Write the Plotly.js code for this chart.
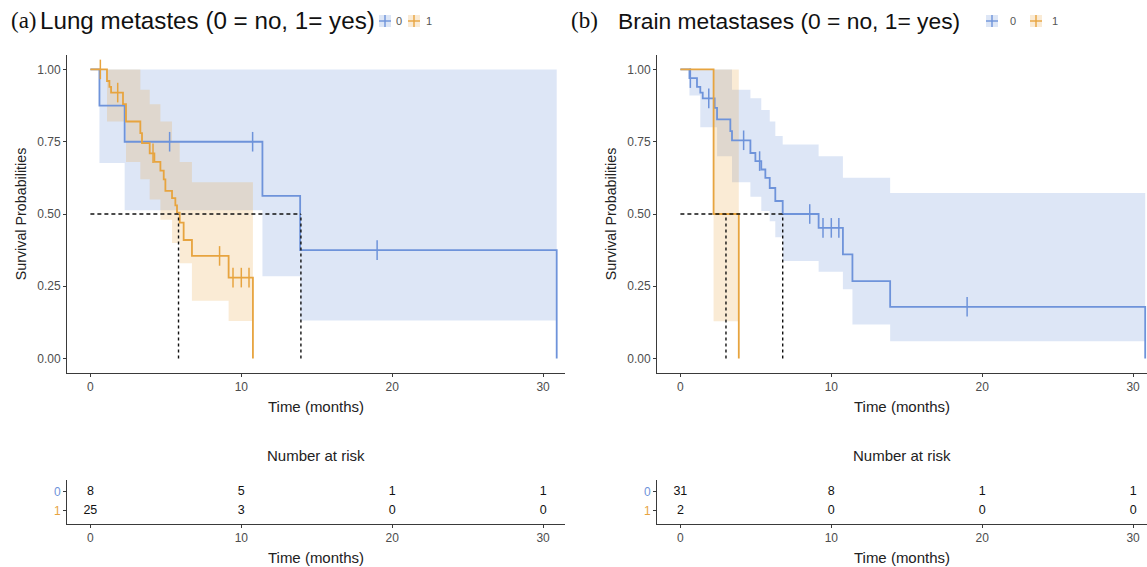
<!DOCTYPE html>
<html><head><meta charset="utf-8">
<script src="https://cdn.plot.ly/plotly-3.0.1.min.js"></script>
<style>html,body{margin:0;padding:0;background:#fff}#chart{width:1147px;height:567px}</style>
</head><body><div id="chart"></div>
<script>
// ---------- data ----------
const groupLabels = ['0', '1'];
const xTickVals = [0, 10, 20, 30];
const yTickVals = [0, 0.25, 0.5, 0.75, 1];
const riskTimes = [0, 10, 20, 30];

// (a) Lung metastases, group 0
const lungNoTime = [0, 0.6, 2.27, 11.4, 13.9, 30.9];
const lungNoSurv = [1, 0.875, 0.75, 0.5625, 0.375, 0];
const lungNoCensor = [5.25, 10.75, 19.0];
const lungNoCiTime = [0, 0.6, 2.27, 11.4, 13.9, 30.9];
const lungNoCiUpper = [1, 1, 1, 1, 1, 1];
const lungNoCiLower = [1, 0.676, 0.513, 0.285, 0.132, 0.132];
// (a) Lung metastases, group 1
const lungYesTime = [0, 1.10, 1.26, 1.37, 2.16, 2.36, 3.31, 3.42, 3.93, 4.24, 4.64, 4.86, 4.97, 5.41, 5.63, 5.74, 5.92, 6.18, 6.73, 9.16, 10.77];
const lungYesSurv = [1, 0.96, 0.94, 0.92, 0.88, 0.82, 0.78, 0.745, 0.71, 0.68, 0.65, 0.62, 0.58, 0.555, 0.53, 0.505, 0.47, 0.41, 0.355, 0.28, 0];
const lungYesCensor = [0.66, 1.81, 4.15, 8.56, 9.45, 10.0, 10.51];
const lungYesCiTime = [0, 1.10, 2.36, 3.31, 3.93, 4.64, 5.41, 5.92, 6.73, 9.16, 10.77];
const lungYesCiUpper = [1, 1, 1, 0.93, 0.88, 0.82, 0.75, 0.68, 0.61, 0.61, 0.61];
const lungYesCiLower = [1, 0.82, 0.68, 0.62, 0.55, 0.48, 0.40, 0.33, 0.20, 0.13, 0.13];
const lungMedians = [13.95, 5.84];
const lungRisk0 = [8, 5, 1, 1];
const lungRisk1 = [25, 3, 0, 0];

// (b) Brain metastases, group 0
const brainNoTime = [0, 0.6, 1.10, 1.32, 1.48, 2.27, 2.43, 3.31, 3.42, 4.64, 4.97, 5.36, 5.63, 5.92, 6.29, 6.78, 9.16, 10.77, 11.4, 13.9, 30.8];
const brainNoSurv = [1, 0.97, 0.94, 0.92, 0.90, 0.867, 0.827, 0.787, 0.755, 0.711, 0.683, 0.654, 0.625, 0.59, 0.545, 0.50, 0.452, 0.36, 0.268, 0.179, 0];
const brainNoCensor = [0.66, 1.88, 4.19, 5.25, 8.57, 9.45, 10.0, 10.5, 19.0];
const brainNoCiTime = [0, 0.6, 1.32, 2.43, 3.42, 4.64, 5.36, 5.92, 6.29, 6.78, 9.16, 10.77, 11.4, 13.9, 30.8];
const brainNoCiUpper = [1, 1, 1, 1, 0.93, 0.90, 0.86, 0.82, 0.77, 0.74, 0.70, 0.625, 0.625, 0.573, 0.573];
const brainNoCiLower = [1, 0.91, 0.80, 0.70, 0.61, 0.56, 0.51, 0.475, 0.42, 0.337, 0.30, 0.24, 0.118, 0.06, 0.06];
// (b) Brain metastases, group 1
const brainYesTime = [0, 2.2, 3.87];
const brainYesSurv = [1, 0.5, 0];
const brainYesCensor = [];
const brainYesCiTime = [0, 2.2, 3.87];
const brainYesCiUpper = [1, 1, 1];
const brainYesCiLower = [1, 0.129, 0.129];
const brainMedians = [6.78, 3.02];
const brainRisk0 = [31, 8, 1, 1];
const brainRisk1 = [2, 0, 0, 0];

// ---------- styling ----------
const W = 1147, H = 567;
const BLUE = '#6E93DA', ORANGE = '#E7A43F';
const BLUE_FILL = 'rgba(110,147,218,0.23)', ORANGE_FILL = 'rgba(231,164,63,0.22)';
const SANS = 'Liberation Sans, Arial, sans-serif';
const SERIF = 'Liberation Serif, Times New Roman, serif';
const px = v => v / W, py = v => 1 - v / H;

function stepAt(times, surv, t) {
  let v = surv[0];
  for (let i = 0; i < times.length; i++) if (times[i] <= t) v = surv[i];
  return v;
}

function kmTraces(xa, ya, time, surv, censor, ciT, ciU, ciL, color, fill) {
  return {
    band: [
      {x: ciT, y: ciL, xaxis: xa, yaxis: ya, mode: 'lines', line: {width: 0, shape: 'hv'}, showlegend: false, hoverinfo: 'skip'},
      {x: ciT, y: ciU, xaxis: xa, yaxis: ya, mode: 'lines', line: {width: 0, shape: 'hv'}, fill: 'tonexty', fillcolor: fill, showlegend: false, hoverinfo: 'skip'}
    ],
    line: [
      {x: time, y: surv, xaxis: xa, yaxis: ya, mode: 'lines', line: {color: color, width: 1.8, shape: 'hv'}, showlegend: false},
      {x: censor, y: censor.map(t => stepAt(time, surv, t)), xaxis: xa, yaxis: ya, mode: 'markers',
       marker: {symbol: 'line-ns', size: 14, line: {width: 1.5, color: color}}, showlegend: false}
    ]
  };
}

function medianTraces(xa, ya, meds) {
  const hx = [0, Math.max(...meds)], hy = [0.5, 0.5];
  const vx = [], vy = [];
  meds.forEach(m => { vx.push(m, m, null); vy.push(0, 0.5, null); });
  return [
    {x: hx, y: hy, xaxis: xa, yaxis: ya, mode: 'lines', line: {color: '#111', width: 1.4, dash: '4px,3px'}, showlegend: false},
    {x: vx, y: vy, xaxis: xa, yaxis: ya, mode: 'lines', line: {color: '#111', width: 1.4, dash: '3px,3px'}, showlegend: false}
  ];
}

function riskTraces(xa, ya, r0, r1) {
  return [r0, r1].map((r, i) => ({
    x: riskTimes, y: riskTimes.map(() => i), text: r.map(String), xaxis: xa, yaxis: ya,
    mode: 'text', textfont: {family: SANS, size: 12.5, color: '#111'}, showlegend: false, hoverinfo: 'skip'
  }));
}

const aNo = kmTraces('x', 'y', lungNoTime, lungNoSurv, lungNoCensor, lungNoCiTime, lungNoCiUpper, lungNoCiLower, BLUE, BLUE_FILL);
const aYes = kmTraces('x', 'y', lungYesTime, lungYesSurv, lungYesCensor, lungYesCiTime, lungYesCiUpper, lungYesCiLower, ORANGE, ORANGE_FILL);
const bNo = kmTraces('x2', 'y2', brainNoTime, brainNoSurv, brainNoCensor, brainNoCiTime, brainNoCiUpper, brainNoCiLower, BLUE, BLUE_FILL);
const bYes = kmTraces('x2', 'y2', brainYesTime, brainYesSurv, brainYesCensor, brainYesCiTime, brainYesCiUpper, brainYesCiLower, ORANGE, ORANGE_FILL);

const data = [].concat(
  aNo.band, aYes.band, aNo.line, aYes.line, medianTraces('x', 'y', lungMedians),
  bNo.band, bYes.band, bNo.line, bYes.line, medianTraces('x2', 'y2', brainMedians),
  riskTraces('x3', 'y3', lungRisk0, lungRisk1),
  riskTraces('x4', 'y4', brainRisk0, brainRisk1)
);

const axBase = {
  showline: true, linecolor: '#3a3a3a', linewidth: 1, ticks: 'outside', ticklen: 3, tickwidth: 1, tickcolor: '#3a3a3a',
  showgrid: false, zeroline: false, tickfont: {family: SANS, size: 12, color: '#4d4d4d'}, fixedrange: true
};
const xTitle = {text: 'Time (months)', font: {family: SANS, size: 15, color: '#222'}, standoff: 8};
const yTitle = {text: 'Survival Probabilities', font: {family: SANS, size: 14.3, color: '#222'}, standoff: 7};
const mainY = [py(373), py(55)], riskY = [py(524), py(480)];
const domA = [px(67), px(565)], domB = [px(657), 1];
const rangeA = [-1.55, 31.45], rangeB = [-1.55, 30.92];
const riskTickText = [
  '<span style="color:' + BLUE + '">' + groupLabels[0] + '</span>',
  '<span style="color:' + ORANGE + '">' + groupLabels[1] + '</span>'
];

function label(text, x, size, family) {
  return {text: text, x: px(x), y: py(21), xref: 'paper', yref: 'paper', xanchor: 'left', yanchor: 'middle',
          showarrow: false, font: {family: family, size: size, color: '#111'}};
}
function keyText(text, x) {
  return {text: text, x: px(x), y: py(21), xref: 'paper', yref: 'paper', xanchor: 'center', yanchor: 'middle',
          showarrow: false, font: {family: SANS, size: 11, color: '#555'}};
}

const layout = {
  width: W, height: H, margin: {l: 0, r: 0, t: 0, b: 0}, paper_bgcolor: '#fff', plot_bgcolor: 'rgba(0,0,0,0)',
  font: {family: SANS}, showlegend: false, hovermode: false,
  xaxis: Object.assign({}, axBase, {domain: domA, range: rangeA, tickvals: xTickVals, anchor: 'y', title: xTitle}),
  yaxis: Object.assign({}, axBase, {domain: mainY, range: [-0.05, 1.05], tickvals: yTickVals, tickformat: '.2f', anchor: 'x', title: yTitle}),
  xaxis2: Object.assign({}, axBase, {domain: domB, range: rangeB, tickvals: xTickVals, anchor: 'y2', title: xTitle}),
  yaxis2: Object.assign({}, axBase, {domain: mainY, range: [-0.05, 1.05], tickvals: yTickVals, tickformat: '.2f', anchor: 'x2', title: yTitle}),
  xaxis3: Object.assign({}, axBase, {domain: domA, range: rangeA, tickvals: xTickVals, anchor: 'y3', title: xTitle}),
  yaxis3: Object.assign({}, axBase, {domain: riskY, range: [1.7, -0.6], tickvals: [0, 1], ticktext: riskTickText, anchor: 'x3'}),
  xaxis4: Object.assign({}, axBase, {domain: domB, range: rangeB, tickvals: xTickVals, anchor: 'y4', title: xTitle}),
  yaxis4: Object.assign({}, axBase, {domain: riskY, range: [1.7, -0.6], tickvals: [0, 1], ticktext: riskTickText, anchor: 'x4'}),
  annotations: [
    label('(a)', 9, 23, SERIF),
    label('Lung metastes (0 = no, 1= yes)', 38, 24.2, SANS),
    label('(b)', 569, 23, SERIF),
    label('Brain metastases (0 = no, 1= yes)', 616, 22.8, SANS),
    keyText(groupLabels[0], 399), keyText(groupLabels[1], 429),
    keyText(groupLabels[0], 1013), keyText(groupLabels[1], 1055),
    {text: 'Number at risk', x: 0.5, y: py(455), xref: 'x3 domain', yref: 'paper', xanchor: 'center', yanchor: 'middle', showarrow: false, font: {family: SANS, size: 15, color: '#222'}},
    {text: 'Number at risk', x: 0.5, y: py(455), xref: 'x4 domain', yref: 'paper', xanchor: 'center', yanchor: 'middle', showarrow: false, font: {family: SANS, size: 15, color: '#222'}}
  ],
  shapes: []
};

// legend keys
function legendKey(cx, cy, color, fill) {
  const s = 6;
  layout.shapes.push(
    {type: 'rect', xref: 'paper', yref: 'paper', x0: px(cx - s), x1: px(cx + s), y0: py(cy + s), y1: py(cy - s), fillcolor: fill, line: {width: 0}},
    {type: 'line', xref: 'paper', yref: 'paper', x0: px(cx - s), x1: px(cx + s), y0: py(cy), y1: py(cy), line: {color: color, width: 1.4}},
    {type: 'line', xref: 'paper', yref: 'paper', x0: px(cx), x1: px(cx), y0: py(cy - s), y1: py(cy + s), line: {color: color, width: 1.4}}
  );
}
legendKey(385, 21, BLUE, BLUE_FILL);
legendKey(414, 21, ORANGE, ORANGE_FILL);
legendKey(992, 21, BLUE, BLUE_FILL);
legendKey(1036, 21, ORANGE, ORANGE_FILL);

Plotly.newPlot('chart', data, layout, {staticPlot: true, displayModeBar: false});
</script>
</body></html>
